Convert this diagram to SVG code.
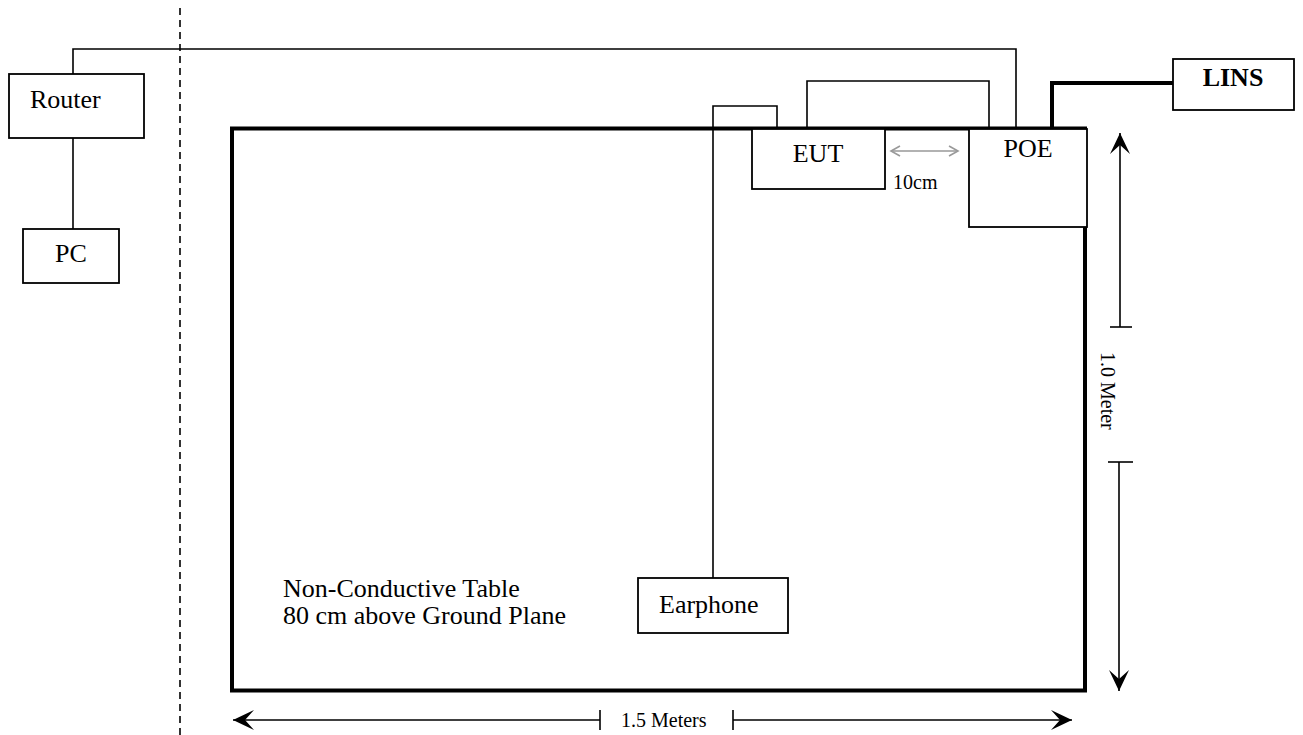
<svg xmlns="http://www.w3.org/2000/svg" width="1303" height="735" viewBox="0 0 1303 735">
<defs>
<style>
text{font-family:"Liberation Serif","Times New Roman",serif;fill:#000}
.lbl{font-size:26px}
.dim{font-size:20px}
.box{fill:#fff;stroke:#000;stroke-width:1.8}
.wire{fill:none;stroke:#000;stroke-width:1.6}
.thick{fill:none;stroke:#000;stroke-width:4}
.dline{fill:none;stroke:#000;stroke-width:1.6}
</style>
<marker id="ah" viewBox="-22 -11 24 22" refX="0" refY="0" markerWidth="24" markerHeight="22" markerUnits="userSpaceOnUse" orient="auto">
<path d="M0,0 L-21,-10 L-12,0 L-21,10 Z" fill="#000"/>
</marker>
<marker id="gh" viewBox="-10 -6 12 12" refX="0" refY="0" markerWidth="12" markerHeight="12" markerUnits="userSpaceOnUse" orient="auto-start-reverse">
<path d="M-9,-5 L0,0 L-9,5" fill="none" stroke="#999" stroke-width="1.6"/>
</marker>
</defs>

<line x1="180" y1="8" x2="180" y2="735" stroke="#000" stroke-width="1.6" stroke-dasharray="7,5"/>

<g id="table">
<rect x="232" y="128.5" width="853" height="562" fill="none" stroke="#000" stroke-width="4"/>
<text class="lbl" x="283" y="597">Non-Conductive Table</text>
<text class="lbl" x="283" y="624">80 cm above Ground Plane</text>
</g>

<g id="connectors">
<polyline class="wire" points="73,74 73,49 1016,49 1016,128"/>
<line class="wire" x1="73" y1="138" x2="73" y2="229"/>
<polyline class="wire" points="713,578 713,106 777,106 777,128"/>
<polyline class="wire" points="807,128 807,81 989,81 989,128"/>
<polyline class="thick" points="1052,128 1052,83 1173,83"/>
<line x1="891" y1="151" x2="958" y2="151" stroke="#999" stroke-width="1.6" marker-start="url(#gh)" marker-end="url(#gh)"/>
</g>

<g id="router">
<rect class="box" x="9" y="74" width="135" height="64"/>
<text class="lbl" x="30" y="108">Router</text>
</g>
<g id="pc">
<rect class="box" x="23" y="229" width="96" height="54"/>
<text class="lbl" x="71" y="262" text-anchor="middle">PC</text>
</g>
<g id="eut">
<rect class="box" x="752" y="129" width="133" height="60"/>
<text class="lbl" x="818" y="162" text-anchor="middle">EUT</text>
</g>
<g id="poe">
<rect class="box" x="969" y="129" width="118" height="98"/>
<text class="lbl" x="1028" y="157" text-anchor="middle">POE</text>
</g>
<g id="lins">
<rect class="box" x="1173" y="59" width="121" height="51"/>
<text class="lbl" x="1233" y="86" text-anchor="middle" font-weight="bold">LINS</text>
</g>
<g id="earphone">
<rect class="box" x="638" y="578" width="150" height="55"/>
<text class="lbl" x="659" y="613">Earphone</text>
</g>
<text class="dim" x="893" y="189">10cm</text>

<g id="dimensions">
<line class="dline" x1="1120" y1="327" x2="1120" y2="133" marker-end="url(#ah)"/>
<line class="dline" x1="1110" y1="327" x2="1132" y2="327"/>
<line class="dline" x1="1119" y1="462" x2="1119" y2="691" marker-end="url(#ah)"/>
<line class="dline" x1="1108" y1="462" x2="1133" y2="462"/>
<text class="dim" transform="translate(1101,352) rotate(90)">1.0 Meter</text>
<line class="dline" x1="600" y1="720" x2="233" y2="720" marker-end="url(#ah)"/>
<line class="dline" x1="600" y1="710" x2="600" y2="730"/>
<line class="dline" x1="733" y1="720" x2="1072" y2="720" marker-end="url(#ah)"/>
<line class="dline" x1="733" y1="710" x2="733" y2="730"/>
<text class="dim" x="621" y="727">1.5 Meters</text>
</g>
</svg>
